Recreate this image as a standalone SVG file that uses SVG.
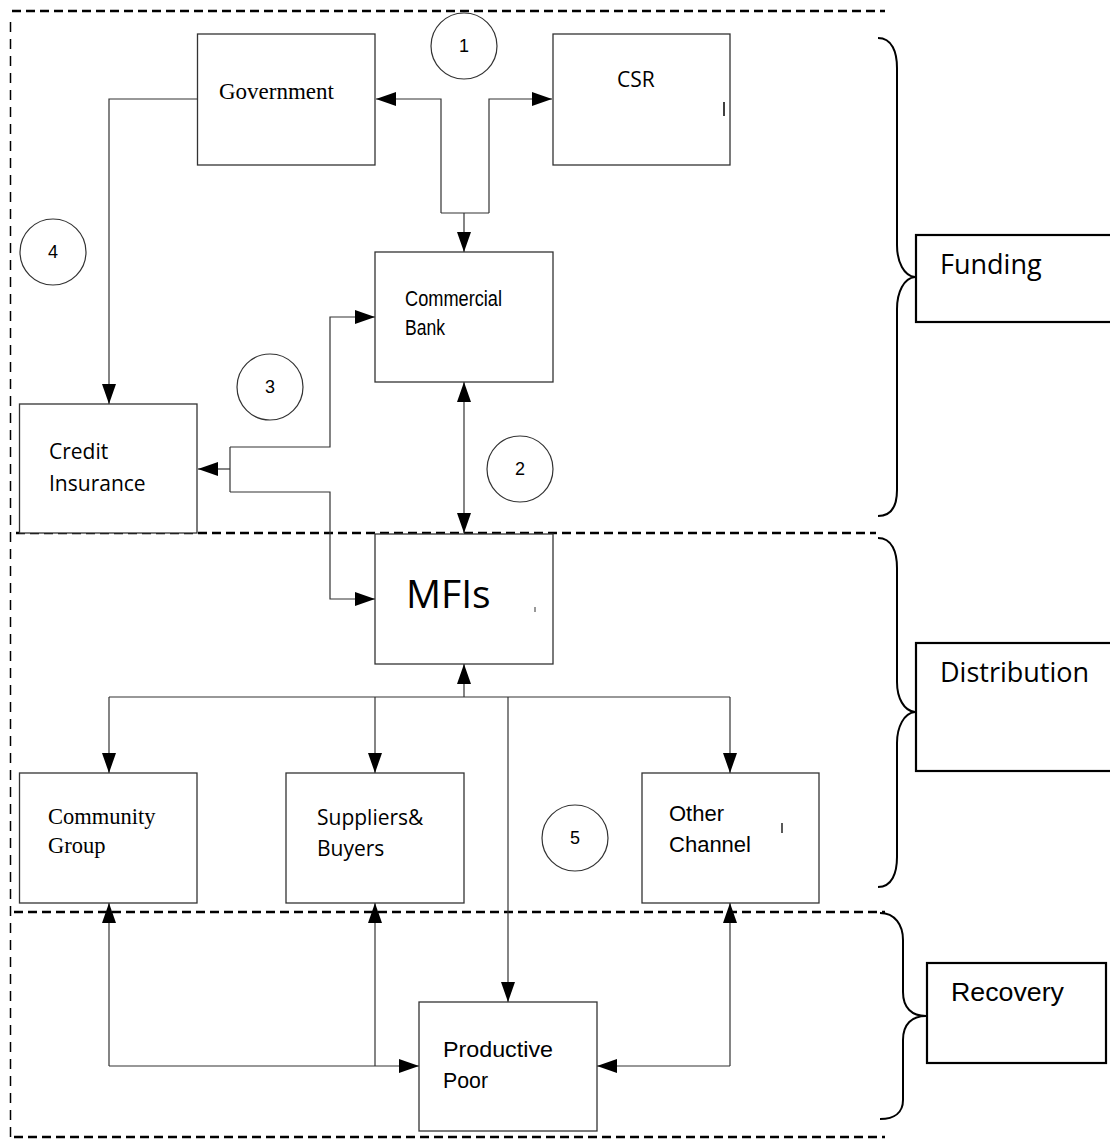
<svg xmlns="http://www.w3.org/2000/svg" width="1110" height="1139" viewBox="0 0 1110 1139">
<style>
.box{fill:#fff;stroke:#333;stroke-width:1.3}
.lbl{fill:#fff;stroke:#000;stroke-width:2.2}
.ln{fill:none;stroke:#333;stroke-width:1.2}
.dash{fill:none;stroke:#000;stroke-width:2.6;stroke-dasharray:9 5}
.vdash{fill:none;stroke:#000;stroke-width:1.5;stroke-dasharray:10 7}
.brace{fill:none;stroke:#000;stroke-width:2}
.circ{fill:none;stroke:#333;stroke-width:1.2}
.serif{font-family:"Liberation Serif","Times New Roman",serif;font-size:22.5px;fill:#000}
.sans{font-family:"Open Sans","Noto Sans",sans-serif;font-size:21px;fill:#000}
.nar{font-family:"Liberation Sans",Arial,sans-serif;font-size:22px;fill:#000}
.num{font-family:"Liberation Sans",Arial,sans-serif;font-size:18px;fill:#000;text-anchor:middle}
.big{font-family:"Open Sans","Noto Sans",sans-serif;font-size:27px;fill:#000}
</style>
<defs>
<marker id="ah" markerUnits="userSpaceOnUse" markerWidth="21" markerHeight="14" refX="20" refY="7" orient="auto-start-reverse" viewBox="0 0 21 14">
<path d="M0,0 L20,7 L0,14 z" fill="#000"/>
</marker>
</defs>
<g id="frame">
<line class="dash" x1="12" y1="11" x2="885" y2="11"/>
<line class="vdash" x1="10.5" y1="22" x2="10.5" y2="1137"/>
<line class="dash" x1="16" y1="533" x2="876" y2="533"/>
<line class="dash" x1="14" y1="912" x2="885" y2="912"/>
<line class="dash" x1="14" y1="1137" x2="885" y2="1137"/>
</g>
<g id="connectors">
<path class="ln" d="M441,213 L441,99 L376,99" marker-end="url(#ah)"/>
<path class="ln" d="M489,213 L489,99 L552,99" marker-end="url(#ah)"/>
<path class="ln" d="M441,213 L489,213"/>
<path class="ln" d="M464,213 L464,252" marker-end="url(#ah)"/>
<path class="ln" d="M197,99 L109,99 L109,404" marker-end="url(#ah)"/>
<path class="ln" d="M230,469 L198,469" marker-end="url(#ah)"/>
<path class="ln" d="M230,447 L230,492"/>
<path class="ln" d="M230,447 L330,447 L330,317 L375,317" marker-end="url(#ah)"/>
<path class="ln" d="M230,492 L330,492 L330,599 L375,599" marker-end="url(#ah)"/>
<path class="ln" d="M464,382 L464,533" marker-start="url(#ah)" marker-end="url(#ah)"/>
<path class="ln" d="M464,697 L464,664" marker-end="url(#ah)"/>
<path class="ln" d="M109,697 L730,697"/>
<path class="ln" d="M109,697 L109,773" marker-end="url(#ah)"/>
<path class="ln" d="M375,697 L375,773" marker-end="url(#ah)"/>
<path class="ln" d="M730,697 L730,773" marker-end="url(#ah)"/>
<path class="ln" d="M508,697 L508,1002" marker-end="url(#ah)"/>
<path class="ln" d="M109,1066 L109,903" marker-end="url(#ah)"/>
<path class="ln" d="M375,1066 L375,903" marker-end="url(#ah)"/>
<path class="ln" d="M730,1066 L730,903" marker-end="url(#ah)"/>
<path class="ln" d="M109,1066 L419,1066" marker-end="url(#ah)"/>
<path class="ln" d="M730,1066 L597,1066" marker-end="url(#ah)"/>
</g>
<g id="government">
<rect class="box" x="197.5" y="34" width="177.5" height="131"/>
<text class="serif" x="219" y="99" style="font-size:23px">Government</text>
</g>
<g id="csr">
<rect class="box" x="553" y="34" width="177" height="131"/>
<text class="sans" x="617" y="87">CSR</text>
<line x1="724" y1="102" x2="724" y2="116" stroke="#000" stroke-width="1.5"/>
</g>
<g id="commercial-bank">
<rect class="box" x="375" y="252" width="178" height="130"/>
<text class="nar" x="405" y="306" textLength="97" lengthAdjust="spacingAndGlyphs">Commercial</text>
<text class="nar" x="405" y="335" textLength="40" lengthAdjust="spacingAndGlyphs">Bank</text>
</g>
<g id="credit-insurance">
<rect class="box" x="19.5" y="404" width="177.5" height="129"/>
<text class="sans" x="49" y="459">Credit</text>
<text class="sans" x="49" y="491">Insurance</text>
</g>
<g id="mfis">
<rect class="box" x="375" y="534" width="178" height="130"/>
<text class="sans" x="406" y="608" style="font-size:39px">MFIs</text>
<line x1="535" y1="607" x2="535" y2="612" stroke="#333" stroke-width="1"/>
</g>
<g id="community-group">
<rect class="box" x="19.5" y="773" width="177.5" height="130"/>
<text class="serif" x="48" y="824">Community</text>
<text class="serif" x="48" y="853">Group</text>
</g>
<g id="suppliers-buyers">
<rect class="box" x="286" y="773" width="178" height="130"/>
<text class="sans" x="317" y="825">Suppliers&amp;</text>
<text class="sans" x="317" y="856">Buyers</text>
</g>
<g id="other-channel">
<rect class="box" x="642" y="773" width="177" height="130"/>
<text class="nar" x="669" y="821" textLength="55" lengthAdjust="spacingAndGlyphs">Other</text>
<text class="nar" x="669" y="852" textLength="82" lengthAdjust="spacingAndGlyphs">Channel</text>
<line x1="782" y1="823" x2="782" y2="833" stroke="#000" stroke-width="1.3"/>
</g>
<g id="productive-poor">
<rect class="box" x="419" y="1002" width="178" height="129"/>
<text class="nar" x="443" y="1057" textLength="110" lengthAdjust="spacingAndGlyphs">Productive</text>
<text class="nar" x="443" y="1088" textLength="45" lengthAdjust="spacingAndGlyphs">Poor</text>
</g>
<g id="circles">
<circle class="circ" cx="464" cy="46" r="33"/>
<text class="num" x="464" y="52">1</text>
<circle class="circ" cx="520" cy="469" r="33"/>
<text class="num" x="520" y="475">2</text>
<circle class="circ" cx="270" cy="387" r="33"/>
<text class="num" x="270" y="393">3</text>
<circle class="circ" cx="53" cy="252" r="33"/>
<text class="num" x="53" y="258">4</text>
<circle class="circ" cx="575" cy="838" r="33"/>
<text class="num" x="575" y="844">5</text>
</g>
<g id="funding">
<path class="brace" d="M878,38 C892,38 897,52 897,68 L897,245 C897,262 904,276 915,277 C904,278 897,292 897,309 L897,490 C897,506 892,516 878,516"/>
<rect class="lbl" x="916" y="235" width="200" height="87"/>
<text class="big" x="940" y="274">Funding</text>
</g>
<g id="distribution">
<path class="brace" d="M878,538 C892,538 897,552 897,568 L897,682 C897,698 904,711 915,712 C904,713 897,727 897,743 L897,857 C897,873 892,887 878,887"/>
<rect class="lbl" x="916" y="643" width="200" height="128"/>
<text class="big" x="940" y="682">Distribution</text>
</g>
<g id="recovery">
<path class="brace" d="M880,913 C895,913 903,925 903,940 L903,992 C903,1008 912,1016 926,1016 C912,1016 903,1024 903,1040 L903,1100 C903,1112 895,1119 880,1119"/>
<rect class="lbl" x="927" y="963" width="179" height="100"/>
<text class="nar" x="951" y="1001" style="font-size:25px" textLength="113" lengthAdjust="spacingAndGlyphs">Recovery</text>
</g>
</svg>
